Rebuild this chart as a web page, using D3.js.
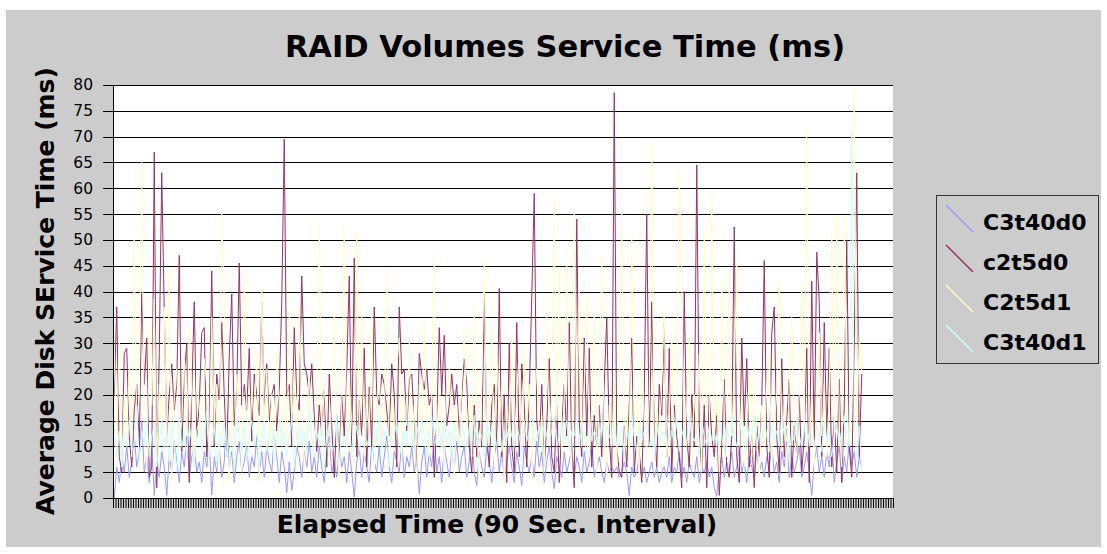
<!DOCTYPE html>
<html lang="en">
<head>
<meta charset="UTF-8">
<title>RAID Volumes Service Time (ms)</title>
<script src="https://d3js.org/d3.v7.min.js"></script>
<style>
    html, body { margin: 0; padding: 0; background: #fff; }
    svg { display: block; }
    text { font-family: "DejaVu Sans", Verdana, sans-serif; }
    .grid line { stroke: #000; stroke-width: 1; }
    .grid path { display: none; }
    .series { fill: none; stroke-width: 1; }
</style>
</head>
<body>
<svg width="1107" height="554"></svg>
<script>
// 90 second intervals on the x axis (no labels shown), 300 of them carry data
const categoryCount = 312;
const categories = d3.range(1, categoryCount + 1);

const seriesNames = ["C3t40d0", "c2t5d0", "C2t5d1", "C3t40d1"];
const seriesColors = ["#9999ff", "#993366", "#ffffcc", "#ccffff"];

const yTicks = [0, 5, 10, 15, 20, 25, 30, 35, 40, 45, 50, 55, 60, 65, 70, 75, 80];

// values, 20 per row
const c3t40d0 = [
    0,6,3,8,5,10,4,7,12,6,9,15,5,8,3,10,0.5,7,4,9,
    6,0.5,8,5,11,7,3,9,6,12,4,8,10,5,7,3,9,6,11,0.6,
    8,5,10,4,7,17,6,9,3,8,11,5,7,10,4,8,6,12,5,9,
    4,10,7,5,12,8,3,9,6,1,7,1.5,5,10,8,4,9,6,11,5,
    8,4,10,6,3,9,12,5,7,4,10,6,8,3,9,5,0.2,7,10,4,
    9,6,3,11,7,5,10,4,8,12,6,3,9,7,5,11,4,8,6,10,
    5,8,0.8,7,10,4,9,6,12,5,8,3,10,7,4,9,6,11,5,8,
    10,4,7,12,5,2.4,9,6,4,10,7,3,8,11,5,9,4,7,10,6,
    3,9,6,2.4,10,7,5,8,4,11,6,9,3,7,10,5,1.8,8,6,4,
    9,5,7,10,4,8,6,3,9,5,7,11,4,6,8,5,3,7,5,6,
    5,6,4,5,7,5,0.5,6,4,5,8,4,6,3,5,7,4,6,3,5,
    6,4,8,3,6,5,9,4,6,3,7,5,4,8,3,6,5,7,4,6,
    2,0.3,6,8,4,7,5,9,4,6,10,5,7,3,8,6,4,9,5,7,
    4,8,6,10,5,7,3,9,6,11,4,8,5,7,10,4,6,9,5,0.5,
    7,10,5,8,4,9,6,12,3,7,10,3,8,5,11,6,9,4,8,6
];

const c2t5d0 = [
    20,37,8,5,28,29,12,6,17,22,10,39.6,22,31,4,6,67,2,28,63,
    36,12,20,26,17,22,47,9,24,30,3,20,38,12,18,32,33,8,15,44,
    10,24,19,34,20,8,27.5,39.5,14,21,45.5,18,22,17,29,11,24,20,16,38,
    18,26,15,20,22,13,21,38,69.5,20,22,10,33,20,17,43,26,24,20,26,
    16,9,18,12,21,6,24,14,4,16,8,20,12,25,43,10,46.5,8,19,12,
    29,6,21.5,10,37,20,18,24,22,17,12,26,20,6,37,24,25,13,23,24,
    15,6,28,24,21,25,18,20,4,15,33,20,31.5,14,18,24,18,22,12,20,
    27,22,10,5,18,8,15,10,40,12,6,18,22,10,40.6,8,20,3,30,10,
    5,34,8,26,18,6,20,39,59,15,10,22,6,14,27,8,5,18,3,14,
    22,12,34,10,2,54,15,8,31,12,29,6,16,10,18,8,22,35,12,4,
    78.5,10,5,4,14,6,18,31,5,12,9,3,20,55,10,38,14,6,22,16,
    34,8,29,5,18,12,8,2,40,12,6,20,10,64.5,14,5,18,2,20,12,
    8,16,0.5,10,23,6,4,12,52.5,8,3,31,14,27,6,12,2,14,8,18,
    46,10,4,32,37,12,5,27,8,15,23,4,14,8,20,5,12,29,3,42,
    10,47.6,38,8,34,12,29,6,16,5,23,3,18,50,10,4,30,63,8,24
];

const c2t5d1 = [
    28,10,30.6,6,20,12,25,8,50,14,20,65,12,5,33,18,38.6,7,22,14,
    37,10,43.6,4,20,25,8,15,28,12,33,20,6,24,18,10,27,22,8,35,
    14,22,5,55,39,12,2,20,8,24,16,5,44.4,18,10,22,15,28,3,41,
    15,25,10,20,6,28,18,12,22,8,36.5,14,25,10,37,20,5,15,24,12,
    8,18,53.4,10,22,14,6,20,36,12,3,18,52.5,8,22,15,4,51.8,12,35.7,
    8,22,12,35.7,5,18,25,10,14,44.6,6,20,12,25,31,8,20,14,30,10,
    18,3,22,12,34.4,16,8,20,47.2,10,22,14,6,20,25,12,4,18,10,22,
    33,12,20,8,37.5,15,3,22,46.3,10,18,33,6,29,14,22,2,18,12,30,
    10,20,29,6,29,14,22,4,18,25,10,16,5,35,12,20,58,15,44.6,8,
    20,46,12,6,55,14,40,10,22,39.4,8,18,36.7,5,20,47,12,4,18,10,
    22,6,25,56.4,10,18,8,50.7,12,20,4,27,14,8,20,68.8,5,18,10,22,
    36.4,8,15,32,6,20,63,43,10,18,31,6,20,12,28,5,52,14,10,59,
    12,20,5,42,16,8,44,12,22,45.7,10,20,6,15,24,8,26,12,4,18,
    10,22,28,6,15,20,42.5,10,18,5,22,35,12,8,20,41.5,14,71.3,10,20,
    6,18,32,12,22,8,20,51.8,10,54.8,14,6,54,18,10,20,78.7,12,31.5,24.7
];

const c3t40d1 = [
    14,8,13,6,12,10,15,9,11,18,7,13,10,16,8,12,14,6,11,15,
    9,13,7,14,11,5,16,10,12,8,14,11,6,13,15,9,12,17,8,11,
    14,6,12,10,15,8,13,11,5,16,12,9,14,7,12,15,10,13,6,11,
    15,9,12,14,7,11,16,10,13,8,12,15,6,11,14,10,13,9,17,12,
    8,13,10,15,6,12,14,9,11,16,7,13,10,12,15,8,11,14,9,12,
    15,10,12,7,14,11,16,9,13,10,6,14,12,15,8,11,13,10,16,12,
    9,14,11,15,12,8,13,16,10,12,14,9,15,11,13,7,14,12,10,15,
    12,9,14,11,16,10,13,12,8,15,11,14,12,10,16,9,13,11,15,12,
    10,14,12,8,15,11,13,17,10,12,14,9,15,12,11,13,16,10,12,14,
    11,15,9,13,12,16,10,14,12,8,15,11,13,12,10,16,9,14,12,11,
    15,10,12,14,8,13,11,16,12,9,14,11,13,15,10,12,8,14,11,13,
    12,16,10,13,11,15,9,12,14,10,16,12,11,13,8,15,12,10,14,11,
    13,10,15,12,9,14,11,16,12,10,13,15,11,9,14,12,16,10,13,11,
    15,12,9,14,11,13,10,16,12,14,8,13,11,15,12,10,14,9,13,12,
    10,14,12,9,15,11,13,8,12,14,10,13,16,9,12,71.3,15,8,14,5
];

const seriesValues = [c3t40d0, c2t5d0, c2t5d1, c3t40d1];

const svg = d3.select("svg");

// outer chart area (grey)
svg.append("rect")
    .attr("x", 6).attr("y", 10)
    .attr("width", 1095).attr("height", 537)
    .attr("fill", "#cccccc");

const plot = { left: 113, right: 893, top: 85, bottom: 498 };

const x = d3.scaleBand()
    .domain(categories)
    .range([plot.left, plot.right])
    .paddingInner(0).paddingOuter(0);

const y = d3.scaleLinear()
    .domain([0, 80])
    .range([plot.bottom, plot.top]);

// plot area
svg.append("rect")
    .attr("x", plot.left).attr("y", plot.top)
    .attr("width", plot.right - plot.left)
    .attr("height", plot.bottom - plot.top)
    .attr("fill", "#fff");

// horizontal gridlines
svg.append("g")
    .attr("class", "grid")
    .attr("transform", `translate(${plot.left},0)`)
    .call(d3.axisLeft(y).tickValues(yTicks).tickSize(-(plot.right - plot.left)).tickFormat(""))
    .selectAll("line").attr("shape-rendering", "crispEdges");

// series lines
const line = d3.line()
    .x((d, i) => x(categories[i]) + x.bandwidth() / 2)
    .y(d => y(d));

svg.append("g")
    .selectAll("path")
    .data(seriesValues)
    .join("path")
    .attr("class", "series")
    .attr("stroke", (d, i) => seriesColors[i])
    .attr("stroke-width", (d, i) => i === 1 ? 1.3 : 1)
    .attr("d", line);

// y axis
const yAxis = svg.append("g")
    .attr("transform", `translate(${plot.left},0)`)
    .call(d3.axisLeft(y).tickValues(yTicks).tickSize(10).tickPadding(10));
yAxis.select(".domain").attr("stroke", "#000").attr("shape-rendering", "crispEdges");
yAxis.selectAll(".tick line").attr("stroke", "#000").attr("shape-rendering", "crispEdges");
yAxis.selectAll("text")
    .attr("font-family", "DejaVu Sans, sans-serif")
    .attr("font-size", 15.5)
    .attr("fill", "#000");

// x axis: a tick at every category boundary, no labels
const xEdge = d3.scaleLinear().domain([0, categoryCount]).range([plot.left, plot.right]);
const xAxis = svg.append("g")
    .attr("transform", `translate(0,${plot.bottom})`)
    .call(d3.axisBottom(xEdge).tickValues(d3.range(0, categoryCount + 1)).tickSize(10).tickFormat(""));
xAxis.select(".domain").attr("stroke", "#000").attr("shape-rendering", "crispEdges");
xAxis.selectAll(".tick line").attr("stroke", "#000");

// titles
svg.append("text")
    .attr("x", 565).attr("y", 57)
    .attr("text-anchor", "middle")
    .attr("font-size", 30.5).attr("font-weight", "bold")
    .text("RAID Volumes Service Time (ms)");

svg.append("text")
    .attr("x", 497).attr("y", 533)
    .attr("text-anchor", "middle")
    .attr("font-size", 25).attr("font-weight", "bold")
    .text("Elapsed Time (90 Sec. Interval)");

svg.append("text")
    .attr("transform", "translate(54,291) rotate(-90)")
    .attr("text-anchor", "middle")
    .attr("font-size", 25).attr("font-weight", "bold")
    .text("Average Disk SErvice Time (ms)");

// legend
const legend = svg.append("g");
legend.append("rect")
    .attr("x", 936.5).attr("y", 195.5)
    .attr("width", 162).attr("height", 168)
    .attr("fill", "#cccccc")
    .attr("stroke", "#333");

const item = legend.selectAll("g.item")
    .data(seriesNames)
    .join("g")
    .attr("class", "item")
    .attr("transform", (d, i) => `translate(0,${i * 40})`);

item.append("line")
    .attr("x1", 946).attr("y1", 205)
    .attr("x2", 973).attr("y2", 232)
    .attr("stroke", d => seriesColors[seriesNames.indexOf(d)])
    .attr("stroke-width", 1.5);

item.append("text")
    .attr("x", 983).attr("y", 230)
    .attr("font-size", 22).attr("font-weight", "bold")
    .text(d => d);
</script>
</body>
</html>
